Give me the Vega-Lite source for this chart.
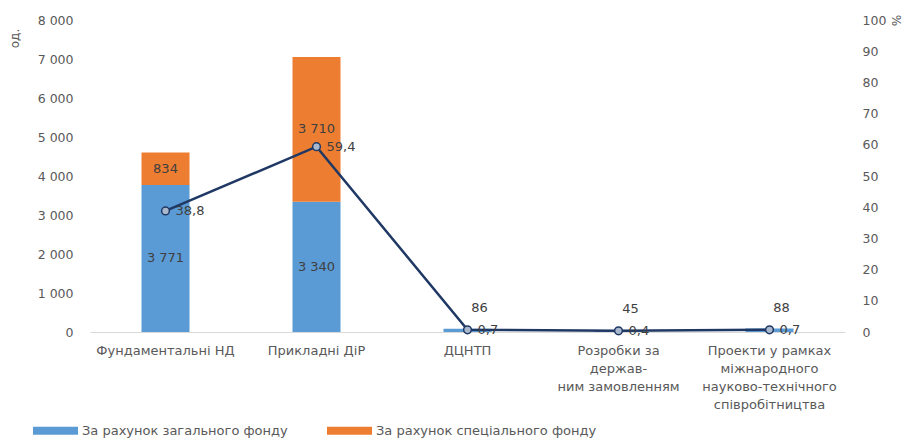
{
  "$schema": "https://vega.github.io/schema/vega-lite/v6.json",
  "width": 755,
  "height": 312,
  "autosize": {"type": "none"},
  "padding": {"left": 90, "top": 20, "right": 62, "bottom": 107},
  "config": {
    "locale": {"number": {"decimal": ",", "thousands": " ", "grouping": [3], "currency": ["", ""]}},
    "view": {"stroke": null},
    "font": "DejaVu Sans",
    "axis": {"grid": false, "ticks": false, "domain": false, "labelOverlap": false, "labelFont": "DejaVu Sans", "labelFontSize": 12.5, "labelColor": "#595959", "titleFont": "DejaVu Sans", "titleFontWeight": "normal", "titleFontSize": 12, "titleColor": "#595959"},
    "legend": {"labelFont": "DejaVu Sans", "labelFontSize": 13, "labelColor": "#595959"}
  },
  "datasets": {
    "bars": [
      {"cat": "Фундаментальні НД", "fund": "За рахунок загального фонду", "n": 3771},
      {"cat": "Фундаментальні НД", "fund": "За рахунок спеціального фонду", "n": 834},
      {"cat": "Прикладні ДіР", "fund": "За рахунок загального фонду", "n": 3340},
      {"cat": "Прикладні ДіР", "fund": "За рахунок спеціального фонду", "n": 3710},
      {"cat": "ДЦНТП", "fund": "За рахунок загального фонду", "n": 86},
      {"cat": "Розробки за|держав-|ним замовленням", "fund": "За рахунок загального фонду", "n": 45},
      {"cat": "Проекти  у рамках|міжнародного|науково-технічного|співробітництва", "fund": "За рахунок загального фонду", "n": 88}
    ],
    "share": [
      {"cat": "Фундаментальні НД", "pct": 38.8},
      {"cat": "Прикладні ДіР", "pct": 59.4},
      {"cat": "ДЦНТП", "pct": 0.7},
      {"cat": "Розробки за|держав-|ним замовленням", "pct": 0.4},
      {"cat": "Проекти  у рамках|міжнародного|науково-технічного|співробітництва", "pct": 0.7}
    ]
  },
  "layer": [
    {
      "data": {"name": "bars"},
      "encoding": {
        "x": {"field": "cat", "type": "nominal", "sort": null, "scale": {"paddingInner": 0, "paddingOuter": 0},
          "axis": {"title": null, "labelAngle": 0, "labelExpr": "split(datum.label, '|')", "labelPadding": 12, "labelLineHeight": 18, "labelLimit": 200, "domain": true, "domainColor": "#d9d9d9", "domainWidth": 1, "labelFontSize": 13}}
      },
      "layer": [
        {
          "mark": {"type": "bar", "width": 48},
          "encoding": {
            "y": {"field": "n", "type": "quantitative", "stack": "zero", "scale": {"domain": [0, 8000]},
              "axis": {"values": [0, 1000, 2000, 3000, 4000, 5000, 6000, 7000, 8000], "format": ",d", "labelPadding": 17, "title": "од.", "titleAngle": -90, "titleX": -76, "titleY": 18, "titleAlign": "center", "titleBaseline": "middle"}},
            "order": {"field": "fund", "sort": "ascending"},
            "color": {"field": "fund", "type": "nominal",
              "scale": {"domain": ["За рахунок загального фонду", "За рахунок спеціального фонду"], "range": ["#5B9BD5", "#ED7D31"]},
              "legend": {"title": null, "orient": "none", "direction": "horizontal", "legendX": -57, "legendY": 388, "symbolType": "M-1,-0.18H1V0.18H-1Z", "symbolSize": 2025, "symbolStrokeWidth": 0, "columnPadding": 39, "labelLimit": 300}}
          }
        },
        {
          "transform": [{"filter": "datum.n > 500"}],
          "mark": {"type": "text", "fontSize": 13, "color": "#404040", "baseline": "middle"},
          "encoding": {
            "y": {"field": "n", "type": "quantitative", "stack": "zero", "bandPosition": 0.5, "scale": {"domain": [0, 8000]},
              "axis": {"values": [0, 1000, 2000, 3000, 4000, 5000, 6000, 7000, 8000], "format": ",d", "labelPadding": 17, "title": "од.", "titleAngle": -90, "titleX": -76, "titleY": 18, "titleAlign": "center", "titleBaseline": "middle"}},
            "order": {"field": "fund", "sort": "ascending"},
            "detail": {"field": "fund"},
            "text": {"field": "n", "type": "quantitative", "format": ",d"}
          }
        },
        {
          "transform": [{"filter": "datum.n < 500"}],
          "mark": {"type": "text", "fontSize": 13, "color": "#404040", "baseline": "bottom", "dx": 12, "dy": -14},
          "encoding": {
            "y": {"field": "n", "type": "quantitative", "scale": {"domain": [0, 8000]},
              "axis": {"values": [0, 1000, 2000, 3000, 4000, 5000, 6000, 7000, 8000], "format": ",d", "labelPadding": 17, "title": "од.", "titleAngle": -90, "titleX": -76, "titleY": 18, "titleAlign": "center", "titleBaseline": "middle"}},
            "text": {"field": "n", "type": "quantitative", "format": ",d"}
          }
        }
      ]
    },
    {
      "data": {"name": "share"},
      "encoding": {
        "x": {"field": "cat", "type": "nominal", "sort": null},
        "y": {"field": "pct", "type": "quantitative", "scale": {"domain": [0, 100]},
          "axis": {"orient": "right", "values": [0, 10, 20, 30, 40, 50, 60, 70, 80, 90, 100], "labelPadding": 17, "title": "%", "titleAngle": 90, "titleX": 50, "titleY": 0, "titleAlign": "center", "titleBaseline": "middle"}}
      },
      "layer": [
        {"mark": {"type": "line", "color": "#1F3864", "strokeWidth": 2.5}},
        {"mark": {"type": "point", "filled": true, "fill": "#A9B8CC", "stroke": "#1F3864", "strokeWidth": 1.5, "size": 60, "opacity": 1}},
        {
          "mark": {"type": "text", "fontSize": 13, "color": "#404040", "align": "left", "baseline": "middle", "dx": 10},
          "encoding": {"text": {"field": "pct", "type": "quantitative", "format": ".1f"}}
        }
      ]
    }
  ],
  "resolve": {"scale": {"y": "independent"}}
}
